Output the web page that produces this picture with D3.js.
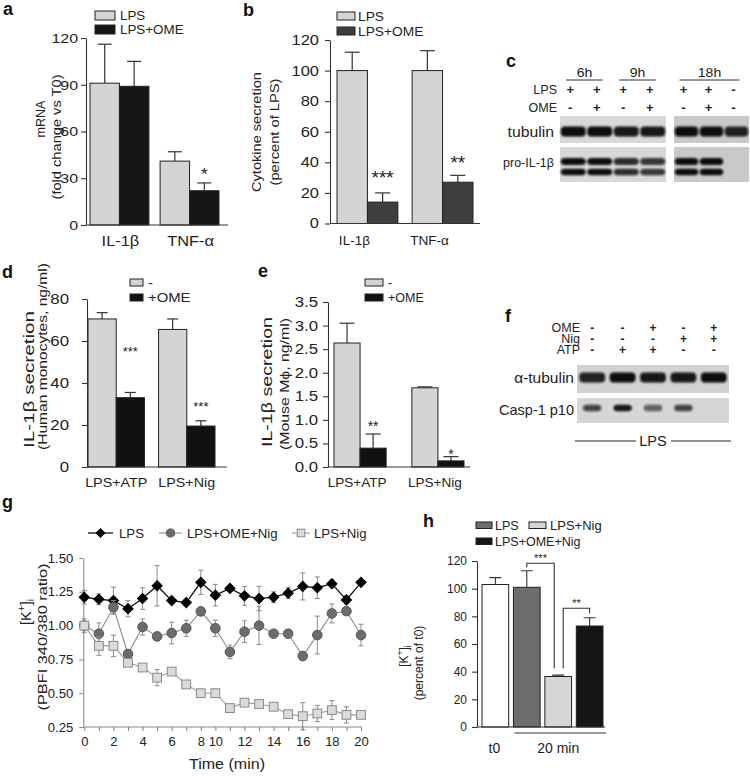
<!DOCTYPE html>
<html><head><meta charset="utf-8">
<script src="https://cdn.jsdelivr.net/npm/d3@7"></script>
<style>body{margin:0;background:#fff} text{font-family:"Liberation Sans",Arial,sans-serif}</style>
</head><body><svg id="c" width="750" height="776"></svg>
<script>
// ---------------- DATA ----------------
// panel a
const aCategories = ["IL-1β", "TNF-α"];
const aSeriesNames = ["LPS", "LPS+OME"];
const aLPS = [91, 41], aLPSErr = [25, 6];
const aOME = [89, 22], aOMEErr = [16, 5];
const aStars = ["", "*"];
const aTicks = [0, 30, 60, 90, 120];
// panel b
const bCategories = ["IL-1β", "TNF-α"];
const bSeriesNames = ["LPS", "LPS+OME"];
const bLPS = [100, 100], bLPSErr = [12, 13];
const bOME = [14, 27], bOMEErr = [6, 4.5];
const bStars = ["***", "**"];
const bTicks = [0, 20, 40, 60, 80, 100, 120];
// panel c (western blot)
const cLanes = ["l1", "l2", "l3", "l4", "l5", "l6", "l7"];
const cLaneTime = ["6h", "6h", "9h", "9h", "18h", "18h", "18h"];
const cTimes = ["6h", "9h", "18h"];
const cLPS = ["+", "+", "+", "+", "+", "+", "-"];
const cOME = ["-", "+", "-", "+", "-", "+", "-"];
const cTubulin = [1, 1, 0.95, 0.95, 1, 1, 0.9];
const cProIL = [1, 1, 0.85, 0.8, 1, 1, 0];
// panel d
const dCategories = ["LPS+ATP", "LPS+Nig"];
const dSeriesNames = ["-", "+OME"];
const dCtrl = [70.5, 65.5], dCtrlErr = [3, 5];
const dOME = [33, 19.5], dOMEErr = [2.5, 2.5];
const dStars = ["***", "***"];
const dTicks = [0, 20, 40, 60, 80];
// panel e
const eCategories = ["LPS+ATP", "LPS+Nig"];
const eSeriesNames = ["-", "+OME"];
const eCtrl = [2.63, 1.68], eCtrlErr = [0.42, 0.02];
const eOME = [0.40, 0.13], eOMEErr = [0.30, 0.09];
const eStars = ["**", "*"];
const eTicks = [0, 0.5, 1.0, 1.5, 2.0, 2.5, 3.0, 3.5];
// panel f (western blot)
const fLanes = ["l1", "l2", "l3", "l4", "l5"];
const fOME = ["-", "-", "+", "-", "+"];
const fNig = ["-", "-", "-", "+", "+"];
const fATP = ["-", "+", "+", "-", "-"];
const fTubulin = [0.9, 1, 0.95, 0.95, 1];
const fCasp = [0.75, 0.95, 0.6, 0.75, 0];
// panel g
const gTimes = [0, 1, 2, 3, 4, 5, 6, 7, 8, 10, 11, 12, 13, 14, 15, 16, 17, 18, 19, 20];
const gTickLabels = [0, 2, 4, 6, 8, 10, 12, 14, 16, 18, 20];
const gSeriesNames = ["LPS", "LPS+OME+Nig", "LPS+Nig"];
const gLPS = [1.21, 1.195, 1.185, 1.125, 1.20, 1.295, 1.185, 1.17, 1.32, 1.225, 1.275, 1.22, 1.20, 1.21, 1.24, 1.29, 1.28, 1.31, 1.19, 1.32];
const gLPSErr = [0.05, 0.04, 0.10, 0.06, 0.08, 0.15, 0.02, 0.02, 0.09, 0.08, 0.02, 0.07, 0.09, 0.04, 0.04, 0.10, 0.08, 0.03, 0.03, 0];
const gOME = [1.00, 0.94, 1.135, 0.79, 0.99, 0.92, 0.945, 0.98, 1.105, 0.98, 0.805, 0.955, 1.00, 0.94, 0.94, 0.775, 0.93, 1.09, 1.107, 0.93];
const gOMEErr = [0.02, 0.08, 0.05, 0.03, 0.06, 0.03, 0.08, 0.06, 0.01, 0.06, 0.05, 0.08, 0.14, 0.02, 0.02, 0.03, 0.14, 0.07, 0.03, 0.08];
const gNig = [1.00, 0.85, 0.85, 0.725, 0.69, 0.615, 0.66, 0.565, 0.50, 0.50, 0.39, 0.43, 0.42, 0.40, 0.345, 0.33, 0.35, 0.375, 0.34, 0.34];
const gNigErr = [0.05, 0.07, 0.08, 0.02, 0.02, 0.06, 0.02, 0.02, 0.01, 0.01, 0.01, 0.02, 0.02, 0.02, 0.01, 0.10, 0.06, 0.07, 0.06, 0.01];
const gTicks = [0.25, 0.50, 0.75, 1.00, 1.25, 1.50];
// panel h
const hCategories = ["t0", "LPS", "LPS+Nig", "LPS+OME+Nig"];
const hValues = [103, 101, 36.5, 73];
const hErr = [5, 12, 1, 6];
const hTicks = [0, 20, 40, 60, 80, 100, 120];

// ---------------- HELPERS ----------------
const FONT = '"Liberation Sans", Arial, sans-serif';
const FONT2 = 'Lato, "Open Sans", sans-serif';
const svg = d3.select("#c");
const defs = svg.append("defs");
defs.append("filter").attr("id", "blur").attr("x", "-30%").attr("y", "-60%").attr("width", "160%").attr("height", "220%")
  .append("feGaussianBlur").attr("stdDeviation", 1.3);

function stretch(sel, k) {
  sel.each(function () {
    const w = this.getComputedTextLength();
    if (w > 0) d3.select(this).attr("textLength", w * k).attr("lengthAdjust", "spacingAndGlyphs");
  });
  return sel;
}
function txt(x, y, s, o = {}) {
  const t = svg.append("text").attr("x", x).attr("y", y).text(s)
    .attr("font-size", o.size || 12).attr("text-anchor", o.anchor || "start")
    .attr("fill", o.fill || "#222").attr("font-family", o.family || FONT);
  if (o.weight) t.attr("font-weight", o.weight);
  if (o.k) stretch(t, o.k);
  return t;
}
function rot(x, y, s, size, anchor, len) {
  const t = svg.append("text").attr("transform", `translate(${x},${y}) rotate(-90)`)
    .attr("text-anchor", anchor || "middle").attr("font-size", size).attr("fill", "#222")
    .attr("font-family", FONT).text(s);
  if (len) t.attr("textLength", len).attr("lengthAdjust", "spacingAndGlyphs");
  return t;
}
function kLabel(x, y, size) {
  const t = svg.append("text").attr("transform", `translate(${x},${y}) rotate(-90)`)
    .attr("text-anchor", "middle").attr("font-size", size).attr("fill", "#222").attr("font-family", FONT);
  t.append("tspan").text("[K");
  t.append("tspan").text("+").attr("font-size", size * 0.7).attr("dy", -size * 0.4);
  t.append("tspan").text("]").attr("dy", size * 0.4);
  t.append("tspan").text("i").attr("font-size", size * 0.7).attr("dy", size * 0.25);
}
function yAxis(x, scale, ticks, fmt, fs, color, tl, pad, k) {
  const a = svg.append("g").attr("transform", `translate(${x},0)`)
    .call(d3.axisLeft(scale).tickValues(ticks).tickFormat(fmt).tickSize(tl || 5).tickSizeOuter(0).tickPadding(pad == null ? 3 : pad));
  a.selectAll("path,line").attr("stroke", color || "#333").attr("stroke-width", 1.1);
  a.selectAll("text").attr("font-size", fs).attr("font-family", FONT).attr("fill", "#222");
  if (k) stretch(a.selectAll("text"), k);
  return a;
}
function legendBox(x, y, w, h, fill, label, fs, tx, k) {
  svg.append("rect").attr("x", x).attr("y", y).attr("width", w).attr("height", h)
    .attr("fill", fill).attr("stroke", "#222").attr("stroke-width", 1);
  txt(tx, y + h / 2 + fs * 0.36, label, { size: fs, k: k });
}

function barPanel(cfg) {
  const y = d3.scaleLinear().domain(cfg.domain).range(cfg.yRange);
  const x = d3.scaleBand().domain(cfg.cats).range(cfg.band).paddingInner(cfg.pad);
  const xi = d3.scaleBand().domain(d3.range(cfg.series.length)).range([0, x.bandwidth()]);
  const rows = [];
  cfg.series.forEach((s, si) => cfg.cats.forEach((c, ci) => rows.push({
    c, ci, si, v: s.values[ci], e: s.errs[ci], fill: s.fill, star: s.stars ? s.stars[ci] : ""
  })));
  const cx = d => x(d.c) + xi(d.si) + xi.bandwidth() / 2;
  const g = svg.append("g");
  g.selectAll(".eb").data(rows).join("line")
    .attr("x1", cx).attr("x2", cx).attr("y1", d => y(d.v)).attr("y2", d => y(d.v + d.e))
    .attr("stroke", "#333").attr("stroke-width", 1.2);
  g.selectAll(".cap").data(rows).join("line")
    .attr("x1", d => cx(d) - cfg.cap / 2).attr("x2", d => cx(d) + cfg.cap / 2)
    .attr("y1", d => y(d.v + d.e)).attr("y2", d => y(d.v + d.e))
    .attr("stroke", "#333").attr("stroke-width", 1.2);
  g.selectAll(".bar").data(rows).join("rect")
    .attr("x", d => x(d.c) + xi(d.si)).attr("width", xi.bandwidth())
    .attr("y", d => y(d.v)).attr("height", d => y(0) - y(d.v))
    .attr("fill", d => d.fill).attr("stroke", "#222").attr("stroke-width", 1);
  yAxis(cfg.axisX, y, cfg.ticks, cfg.fmt, cfg.tickFs, "#333", 5, cfg.tickPad, cfg.tickK);
  g.append("line").attr("x1", cfg.axisX).attr("x2", cfg.axisEnd).attr("y1", y(0)).attr("y2", y(0))
    .attr("stroke", "#333").attr("stroke-width", 1.1);
  const xl = g.selectAll(".xl").data(cfg.cats).join("text")
    .attr("x", c => x(c) + x.bandwidth() / 2 + cfg.labelDx).attr("y", cfg.labelY)
    .attr("text-anchor", "middle").attr("font-size", cfg.labelFs).attr("font-family", FONT).attr("fill", "#222")
    .text(c => c);
  if (cfg.labelK) stretch(xl, cfg.labelK);
  const st = rows.filter(d => d.star);
  g.selectAll(".st").data(st).join("text")
    .attr("x", cx).attr("y", d => y(d.v + d.e) - cfg.starGap[d.ci] + cfg.starFs * 0.58)
    .attr("text-anchor", "middle").attr("font-size", cfg.starFs).attr("font-family", FONT).attr("fill", "#222")
    .text(d => d.star);
  return { x, y };
}

// ---------------- PANEL A ----------------
txt(3, 15, "a", { size: 18, weight: "bold", fill: "#111" });
legendBox(95, 11, 20, 9, "#d4d4d4", aSeriesNames[0], 12.5, 120, 1.07);
legendBox(95, 25, 20, 9, "#161616", aSeriesNames[1], 12.5, 120, 1.07);
barPanel({
  cats: aCategories, domain: [0, 120], yRange: [225, 38], band: [90, 219], pad: 0.16,
  series: [{ values: aLPS, errs: aLPSErr, fill: "#d4d4d4" }, { values: aOME, errs: aOMEErr, fill: "#161616", stars: aStars }],
  axisX: 86, axisEnd: 228, ticks: aTicks, fmt: d3.format("d"), tickFs: 13.5, tickK: 1.18, tickPad: 3, cap: 14,
  labelDx: 1, labelY: 246, labelFs: 14, labelK: 1.17, starFs: 17, starGap: [13, 13]
});
rot(44.5, 119, "mRNA", 12.5, "middle", 37);
rot(61, 137, "(fold change vs T0)", 12.5, "middle", 125);

// ---------------- PANEL B ----------------
txt(243, 16, "b", { size: 18, weight: "bold", fill: "#111" });
legendBox(337, 12, 18, 8, "#d4d4d4", bSeriesNames[0], 12.5, 358, 1.1);
legendBox(337, 27, 18, 8, "#3e3e3e", bSeriesNames[1], 12.5, 358, 1.1);
barPanel({
  cats: bCategories, domain: [0, 120], yRange: [223.5, 40], band: [337, 473], pad: 0.19,
  series: [{ values: bLPS, errs: bLPSErr, fill: "#d4d4d4" }, { values: bOME, errs: bOMEErr, fill: "#3e3e3e", stars: bStars }],
  axisX: 330, axisEnd: 480, ticks: bTicks, fmt: d3.format("d"), tickFs: 14, tickK: 1.18, tickPad: 6, cap: 15,
  labelDx: -13, labelY: 245, labelFs: 13, labelK: 1.04, starFs: 19, starGap: [20, 17]
});
rot(261, 132, "Cytokine secretion", 13, "middle", 120);
rot(279, 132, "(percent of LPS)", 13, "middle", 107);

// ---------------- PANEL C (blot) ----------------
txt(506, 67, "c", { size: 18, weight: "bold", fill: "#111" });
const cX1 = d3.scaleBand().domain(cLanes.slice(0, 4)).range([560, 666]);
const cX2 = d3.scaleBand().domain(cLanes.slice(4)).range([674, 749]);
const cX = l => (cX1.domain().includes(l) ? cX1(l) + cX1.bandwidth() / 2 : cX2(l) + cX2.bandwidth() / 2);
const cBW = l => (cX1.domain().includes(l) ? cX1.bandwidth() : cX2.bandwidth());
cTimes.forEach(t => {
  const ls = cLanes.filter((l, i) => cLaneTime[i] === t);
  const x0 = cX(ls[0]) - 7, x1 = cX(ls[ls.length - 1]) + 3;
  svg.append("line").attr("x1", x0).attr("x2", x1).attr("y1", 80).attr("y2", 80).attr("stroke", "#333").attr("stroke-width", 1);
  txt((x0 + x1) / 2, 77, t, { size: 13, anchor: "middle", k: 1.08 });
});
txt(557, 94, "LPS", { size: 12.5, anchor: "end" });
txt(557, 112, "OME", { size: 12.5, anchor: "end" });
svg.selectAll(".clps").data(cLanes).join("text").attr("x", d => cX(d) - 3).attr("y", 94).attr("text-anchor", "middle")
  .attr("font-size", 13).attr("font-weight", "bold").attr("font-family", FONT).attr("fill", "#222").text((l, i) => cLPS[i]);
svg.selectAll(".come").data(cLanes).join("text").attr("x", d => cX(d) - 3).attr("y", 112).attr("text-anchor", "middle")
  .attr("font-size", 13).attr("font-weight", "bold").attr("font-family", FONT).attr("fill", "#222").text((l, i) => cOME[i]);
[[560, 666, "#d8d8d8"], [674, 749, "#c9c9c9"]].forEach(([a, b, col]) => {
  svg.append("rect").attr("x", a).attr("y", 116).attr("width", b - a).attr("height", 27).attr("fill", col);
  svg.append("rect").attr("x", a).attr("y", 147).attr("width", b - a).attr("height", 35).attr("fill", col);
});
const cBands = [];
cLanes.forEach((l, i) => {
  cBands.push({ l, v: cTubulin[i], cy: 131.5, h: 10 });
  cBands.push({ l, v: cProIL[i], cy: 161.5, h: 7 });
  cBands.push({ l, v: cProIL[i], cy: 172, h: 6.5 });
});
svg.append("g").attr("filter", "url(#blur)").selectAll("rect").data(cBands.filter(d => d.v > 0)).join("rect")
  .attr("x", d => cX(d.l) - cBW(d.l) * 0.47).attr("width", d => cBW(d.l) * 0.94)
  .attr("y", d => d.cy - d.h / 2).attr("height", d => d.h).attr("rx", 4)
  .attr("fill", "#0c0c0c").attr("opacity", d => d.v);
txt(554, 137, "tubulin", { size: 15, anchor: "end", k: 1.05 });
txt(554, 167, "pro-IL-1β", { size: 12.5, anchor: "end" });

// ---------------- PANEL D ----------------
txt(2, 278, "d", { size: 18, weight: "bold", fill: "#111" });
legendBox(130, 279, 13, 7, "#d4d4d4", dSeriesNames[0], 13.5, 148, 1.1);
legendBox(130, 294, 13, 7, "#111", dSeriesNames[1], 13.5, 148, 1.1);
barPanel({
  cats: dCategories, domain: [0, 80], yRange: [467, 299], band: [88, 215], pad: 0.2,
  series: [{ values: dCtrl, errs: dCtrlErr, fill: "#d4d4d4" }, { values: dOME, errs: dOMEErr, fill: "#111", stars: dStars }],
  axisX: 87, axisEnd: 227, ticks: dTicks, fmt: d3.format("d"), tickFs: 14, tickK: 1.2, tickPad: 13, cap: 11,
  labelDx: 0, labelY: 487, labelFs: 13, labelK: 1.1, starFs: 13, starGap: [44, 17]
});
rot(33.5, 448, "IL-1β secretion", 14.5, "start", 137);
rot(47, 450, "(Human monocytes, ng/ml)", 12.5, "start", 187);

// ---------------- PANEL E ----------------
txt(258, 277, "e", { size: 18, weight: "bold", fill: "#111" });
legendBox(365, 279, 18, 7, "#d4d4d4", eSeriesNames[0], 12.5, 388);
legendBox(365, 294, 18, 7, "#111", eSeriesNames[1], 12.5, 388);
barPanel({
  cats: eCategories, domain: [0, 3.5], yRange: [467, 302], band: [334, 464], pad: 0.33,
  series: [{ values: eCtrl, errs: eCtrlErr, fill: "#d4d4d4" }, { values: eOME, errs: eOMEErr, fill: "#111", stars: eStars }],
  axisX: 328, axisEnd: 470, ticks: eTicks, fmt: d3.format(".1f"), tickFs: 14, tickK: 1.2, tickPad: 5, cap: 15,
  labelDx: -3, labelY: 487, labelFs: 13, labelK: 1.04, starFs: 14, starGap: [11, 6]
});
rot(272, 447, "IL-1β secretion", 14.5, "start", 130);
rot(288.5, 450, "(Mouse Mϕ, ng/ml)", 12.5, "start", 132);

// ---------------- PANEL F (blot) ----------------
txt(505, 322, "f", { size: 18, weight: "bold", fill: "#111", family: FONT2 });
const fX = d3.scaleBand().domain(fLanes).range([577, 729]);
const fC = l => fX(l) + fX.bandwidth() / 2;
[["OME", fOME, 332], ["Nig", fNig, 343], ["ATP", fATP, 354]].forEach(([name, arr, yy]) => {
  txt(580, yy, name, { size: 12, anchor: "end", family: FONT2, k: 1.04 });
  svg.selectAll(null).data(fLanes).join("text").attr("x", fC).attr("y", yy).attr("text-anchor", "middle")
    .attr("font-size", 12).attr("font-weight", "bold").attr("font-family", FONT2).attr("fill", "#222").text((l, i) => arr[i]);
});
svg.append("rect").attr("x", 577).attr("y", 365).attr("width", 152).attr("height", 28).attr("fill", "#d2d2d2");
svg.append("rect").attr("x", 577).attr("y", 398).attr("width", 152).attr("height", 25).attr("fill", "#d6d6d6");
const fBands = [];
fLanes.forEach((l, i) => {
  fBands.push({ l, v: fTubulin[i], cy: 377.5, h: 10, w: 0.85 });
  fBands.push({ l, v: fCasp[i], cy: 408, h: 6.5, w: 0.6 });
});
svg.append("g").attr("filter", "url(#blur)").selectAll("rect").data(fBands.filter(d => d.v > 0)).join("rect")
  .attr("x", d => fC(d.l) - fX.bandwidth() * d.w / 2).attr("width", d => fX.bandwidth() * d.w)
  .attr("y", d => d.cy - d.h / 2).attr("height", d => d.h).attr("rx", 4)
  .attr("fill", "#0c0c0c").attr("opacity", d => d.v);
txt(574, 383, "α-tubulin", { size: 15.5, anchor: "end", family: FONT2 });
txt(574, 415, "Casp-1 p10", { size: 14.5, anchor: "end", family: FONT2 });
svg.append("line").attr("x1", 575).attr("x2", 636).attr("y1", 441).attr("y2", 441).attr("stroke", "#222");
svg.append("line").attr("x1", 671).attr("x2", 731).attr("y1", 441).attr("y2", 441).attr("stroke", "#222");
txt(653, 446, "LPS", { size: 14.5, anchor: "middle", family: FONT2 });

// ---------------- PANEL G ----------------
txt(2, 508, "g", { size: 18, weight: "bold", fill: "#111" });
const gx = d3.scalePoint().domain(gTimes).range([84.3, 361]);
const gy = d3.scaleLinear().domain([0.25, 1.5]).range([727, 558]);
const gAxisCol = "#8a8a8a";
yAxis(83.3, gy, gTicks, d3.format(".2f"), 12.5, gAxisCol, 4, 6, 1.05);
const gxa = svg.append("g").attr("transform", "translate(0,727)")
  .call(d3.axisBottom(gx).tickSize(4).tickSizeOuter(0).tickPadding(6)
    .tickFormat(t => gTickLabels.includes(t) ? t : ""));
gxa.select(".domain").attr("d", "M83.3,0H362");
gxa.selectAll("path,line").attr("stroke", gAxisCol).attr("stroke-width", 1.1);
gxa.selectAll("text").attr("font-size", 13).attr("font-family", FONT).attr("fill", "#222");
txt(227, 769, "Time (min)", { size: 15, anchor: "middle", k: 1.07 });
kLabel(30.5, 612, 14.5);
rot(46.5, 637, "(PBFI 340/380 ratio)", 13, "middle", 147);

const gSeries = [
  { vals: gLPS, errs: gLPSErr, line: "#111", lw: 1.3, type: "diamond", fill: "#000", stroke: "#000" },
  { vals: gOME, errs: gOMEErr, line: "#8a8a8a", lw: 1.1, type: "circle", fill: "#6c6c6c", stroke: "#555" },
  { vals: gNig, errs: gNigErr, line: "#9a9a9a", lw: 1.1, type: "square", fill: "#dadada", stroke: "#8a8a8a" }
];
function marker(sel, type, k) {
  k = k || 1;
  if (type === "diamond") sel.append("path").attr("d", d3.symbol(d3.symbolSquare, 52 * k * k)()).attr("transform", "rotate(45)");
  else if (type === "circle") sel.append("circle").attr("r", 4.8 * k);
  else sel.append("rect").attr("x", -4.4 * k).attr("y", -4.4 * k).attr("width", 8.8 * k).attr("height", 8.8 * k);
}
gSeries.forEach(s => {
  const pts = gTimes.map((t, i) => ({ t, v: s.vals[i], e: s.errs[i] }));
  const g = svg.append("g");
  g.selectAll(".e").data(pts.filter(d => d.e > 0)).join("path")
    .attr("d", d => `M${gx(d.t)},${gy(d.v - d.e)}V${gy(d.v + d.e)}M${gx(d.t) - 2.5},${gy(d.v + d.e)}h5M${gx(d.t) - 2.5},${gy(d.v - d.e)}h5`)
    .attr("stroke", "#8a8a8a").attr("stroke-width", 1).attr("fill", "none");
  g.append("path").datum(pts).attr("d", d3.line().x(d => gx(d.t)).y(d => gy(d.v)))
    .attr("fill", "none").attr("stroke", s.line).attr("stroke-width", s.lw);
  const m = g.selectAll(".m").data(pts).join("g").attr("transform", d => `translate(${gx(d.t)},${gy(d.v)})`);
  marker(m, s.type);
  m.selectAll("path,circle,rect").attr("fill", s.fill).attr("stroke", s.stroke).attr("stroke-width", 1);
});
// legend g
[[88, 113, 0, 119], [159, 182, 1, 187], [292, 310, 2, 314]].forEach(([x0, x1, si, tx]) => {
  const s = gSeries[si];
  svg.append("line").attr("x1", x0).attr("x2", x1).attr("y1", 533).attr("y2", 533).attr("stroke", s.line).attr("stroke-width", s.lw);
  const m = svg.append("g").attr("transform", `translate(${(x0 + x1) / 2},533)`);
  marker(m, s.type, 0.85);
  m.selectAll("path,circle,rect").attr("fill", s.fill).attr("stroke", s.stroke);
  txt(tx, 538, gSeriesNames[si], { size: 12.5, k: 1.06 });
});

// ---------------- PANEL H ----------------
txt(423, 527, "h", { size: 18, weight: "bold", fill: "#111" });
const hFill = ["#ffffff", "#6d6d6d", "#d6d6d6", "#161616"];
const hx = d3.scaleBand().domain(hCategories).range([482, 603]).paddingInner(0.15);
const hy = d3.scaleLinear().domain([0, 120]).range([727, 561]);
const hC = c => hx(c) + hx.bandwidth() / 2;
const hRows = hCategories.map((c, i) => ({ c, v: hValues[i], e: hErr[i], f: hFill[i] }));
svg.selectAll(".heb").data(hRows).join("path")
  .attr("d", d => `M${hC(d.c)},${hy(d.v)}V${hy(d.v + d.e)}M${hC(d.c) - 6},${hy(d.v + d.e)}h12`)
  .attr("stroke", "#333").attr("stroke-width", 1.1).attr("fill", "none");
svg.selectAll(".hb").data(hRows).join("rect")
  .attr("x", d => hx(d.c)).attr("width", hx.bandwidth()).attr("y", d => hy(d.v)).attr("height", d => hy(0) - hy(d.v))
  .attr("fill", d => d.f).attr("stroke", "#222").attr("stroke-width", 1);
yAxis(477, hy, hTicks, d3.format("d"), 12, "#333", 5, 5);
svg.append("line").attr("x1", 477).attr("x2", 605).attr("y1", 727).attr("y2", 727).attr("stroke", "#333").attr("stroke-width", 1.1);
svg.append("line").attr("x1", hx("LPS") + 1).attr("x2", 606).attr("y1", 733).attr("y2", 733).attr("stroke", "#333").attr("stroke-width", 1);
txt(hC("t0") - 1, 753, "t0", { size: 14, anchor: "middle" });
txt((hx("LPS") + hx("LPS+OME+Nig") + hx.bandwidth()) / 2, 753, "20 min", { size: 14, anchor: "middle" });
// brackets
const b1 = [hC("LPS"), hy(hValues[1] + hErr[1]), hC("LPS+Nig") - 4, hy(hValues[2] + hErr[2]) - 7];
svg.append("path").attr("d", `M${b1[0]},${b1[1] - 3.5}V${b1[1] - 7.5}H${b1[2]}V${b1[3]}`)
  .attr("fill", "none").attr("stroke", "#333").attr("stroke-width", 1.1);
txt((b1[0] + b1[2]) / 2, b1[1] - 7.5 - 1, "***", { size: 11, anchor: "middle" });
const b2 = [hC("LPS+Nig") + 5, hy(hValues[2] + hErr[2]) - 7, hC("LPS+OME+Nig"), hy(hValues[3] + hErr[3])];
svg.append("path").attr("d", `M${b2[0]},${b2[1]}V${b2[3] - 9.5}H${b2[2]}V${b2[3] - 4.5}`)
  .attr("fill", "none").attr("stroke", "#333").attr("stroke-width", 1.1);
txt((b2[0] + b2[2]) / 2, b2[3] - 9.5 - 1, "**", { size: 11, anchor: "middle" });
// legend h
legendBox(476, 522, 16, 6.5, "#6d6d6d", "LPS", 12.5, 495);
legendBox(529, 522, 17, 6.5, "#d6d6d6", "LPS+Nig", 13, 550);
legendBox(476, 538, 16, 6.5, "#161616", "LPS+OME+Nig", 12.5, 495);
kLabel(408, 656, 12);
rot(423, 663, "(percent of t0)", 12);
</script></body></html>
